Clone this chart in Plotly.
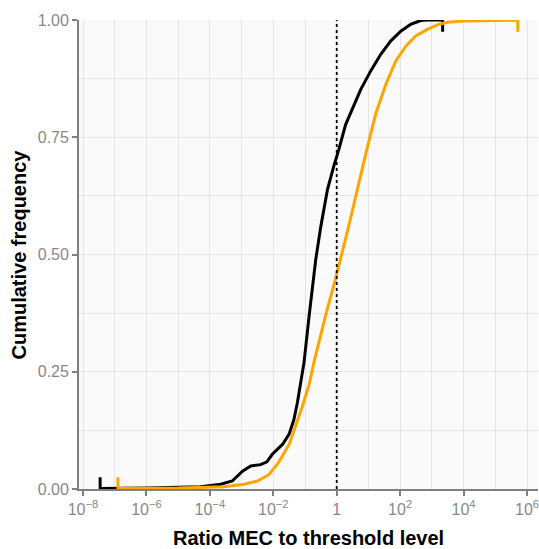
import plotly.graph_objects as go

# ---- data ----
black_x = [3.47e-8, 3.47e-8, 1e-6, 1e-5, 5.1e-5, 2.2e-4, 5.1e-4, 1.07e-3, 1.95e-3, 3.98e-3,
           6.3e-3, 9.3e-3, 0.0195, 0.0316, 0.0447, 0.0575, 0.0724, 0.0933, 0.135, 0.219,
           0.316, 0.513, 0.813, 1.17, 1.91, 3.55, 5.75, 11.7, 24.5, 50.1, 105, 214, 447,
           708, 2188, 2188]
black_y = [0.025, 0.001, 0.002, 0.003, 0.005, 0.010, 0.017, 0.038, 0.049, 0.052,
           0.058, 0.074, 0.095, 0.117, 0.148, 0.184, 0.227, 0.270, 0.369, 0.490,
           0.560, 0.639, 0.689, 0.724, 0.777, 0.820, 0.852, 0.891, 0.927, 0.955, 0.976,
           0.991, 0.999, 1.000, 1.000, 0.975]

orange_x = [1.26e-7, 1.26e-7, 1e-5, 1e-4, 2.75e-4, 1.2e-3, 3.16e-3, 7.4e-3, 0.0151, 0.0316,
            0.0513, 0.0832, 0.135, 0.191, 0.447, 0.933, 2.19, 4.47, 8.91, 17.0, 35.5,
            72.4, 151, 309, 724, 1698, 3162, 1e4, 31623, 1e5, 5.13e5, 5.13e5]
orange_y = [0.025, 0.001, 0.002, 0.003, 0.005, 0.010, 0.017, 0.031, 0.058, 0.095,
            0.134, 0.177, 0.223, 0.270, 0.370, 0.450, 0.550, 0.640, 0.724, 0.800, 0.863,
            0.912, 0.944, 0.966, 0.980, 0.991, 0.995, 0.998, 0.999, 1.000, 1.000, 0.975]

threshold = 1

x_tick_vals = [1e-8, 1e-6, 1e-4, 1e-2, 1, 1e2, 1e4, 1e6]
x_tick_text = ["10<sup>−8</sup>", "10<sup>−6</sup>", "10<sup>−4</sup>", "10<sup>−2</sup>",
               "1", "10<sup>2</sup>", "10<sup>4</sup>", "10<sup>6</sup>"]
x_minor_vals = [1e-7, 1e-5, 1e-3, 1e-1, 1e1, 1e3, 1e5]
y_tick_vals = [0, 0.25, 0.5, 0.75, 1.0]
y_tick_text = ["0.00", "0.25", "0.50", "0.75", "1.00"]
y_minor_vals = [0.125, 0.375, 0.625, 0.875]

x_title = "Ratio MEC to threshold level"
y_title = "Cumulative frequency"

fig = go.Figure()
fig.add_trace(go.Scatter(x=black_x, y=black_y, mode="lines",
                         line=dict(color="black", width=3), showlegend=False))
fig.add_trace(go.Scatter(x=orange_x, y=orange_y, mode="lines",
                         line=dict(color="#FFA500", width=3), showlegend=False))
fig.add_trace(go.Scatter(x=[threshold, threshold], y=[0, 1], mode="lines",
                         line=dict(color="black", width=1.8, dash="dot"), showlegend=False))

axis_gray = "#7f7f7f"
grid = "#e4e4e4"
fig.update_layout(
    width=539, height=549,
    margin=dict(l=79, r=1, t=20, b=60),
    paper_bgcolor="white",
    plot_bgcolor="#fafafa",
    font=dict(family="Liberation Sans, Arial, sans-serif"),
    xaxis=dict(
        type="log", range=[-8.126, 6.347],
        tickvals=x_tick_vals, ticktext=x_tick_text,
        tickfont=dict(size=16, color="#888888"),
        ticklabeloverflow="allow",
        ticks="outside", ticklen=5, tickwidth=1.5, tickcolor=axis_gray,
        showline=True, linecolor=axis_gray, linewidth=1.8,
        showgrid=True, gridcolor=grid, gridwidth=1.3,
        zeroline=False,
        minor=dict(tickvals=x_minor_vals, showgrid=True, gridcolor=grid, gridwidth=1, ticks=""),
    ),
    yaxis=dict(
        range=[0, 1],
        tickvals=y_tick_vals, ticktext=y_tick_text,
        tickfont=dict(size=16, color="#888888"),
        ticks="outside", ticklen=5, tickwidth=1.5, tickcolor=axis_gray,
        showline=True, linecolor=axis_gray, linewidth=1.8,
        showgrid=True, gridcolor=grid, gridwidth=1.3,
        zeroline=False,
        minor=dict(tickvals=y_minor_vals, showgrid=True, gridcolor=grid, gridwidth=1, ticks=""),
    ),
    annotations=[
        dict(text="<b>" + x_title + "</b>", xref="paper", yref="paper",
             x=0.5, y=0, yshift=-36, xanchor="center", yanchor="top", showarrow=False,
             font=dict(size=20, color="black")),
        dict(text="<b>" + y_title + "</b>", xref="paper", yref="paper",
             x=0, y=0.5, xshift=-48, xanchor="right", yanchor="middle", showarrow=False,
             textangle=-90, font=dict(size=20, color="black")),
    ],
)

fig.write_html("out.html", config={"displayModeBar": False},
               post_script="document.body.style.margin='0';document.body.style.overflow='hidden';")
